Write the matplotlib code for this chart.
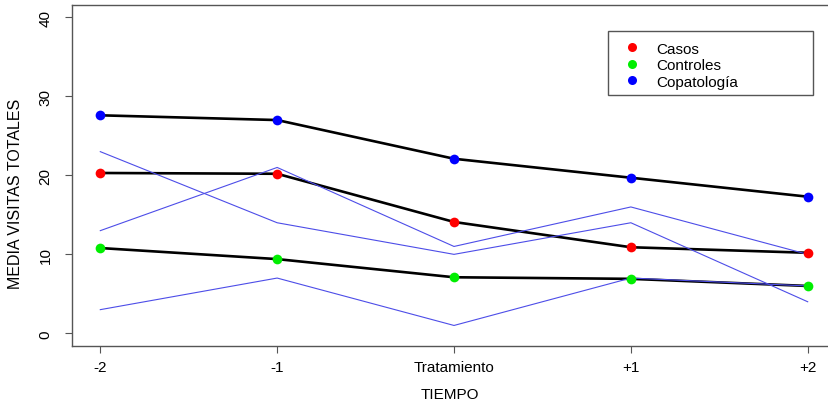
import numpy as np
import matplotlib
matplotlib.use('Agg')
import matplotlib.pyplot as plt
from matplotlib.lines import Line2D
from matplotlib.patches import Rectangle

plt.rcParams['font.family'] = ['Liberation Sans', 'DejaVu Sans']

# data
tiempo = ['-2', '-1', 'Tratamiento', '+1', '+2']
casos = [20.3, 20.2, 14.1, 10.9, 10.2]
controles = [10.8, 9.4, 7.1, 6.9, 6.0]
copatologia = [27.6, 27.0, 22.1, 19.7, 17.3]
# individual trajectories (thin blue lines)
indiv_1 = [23, 14, 10, 14, 4]
indiv_2 = [13, 21, 11, 16, 10]
indiv_3 = [3, 7, 1, 7, 6]

W, H = 829, 406
fig = plt.figure(figsize=(W / 100, H / 100), dpi=100)
ax = fig.add_axes([72 / W, (H - 347) / H, (836 - 72) / W, (347 - 5.7) / H])

x = np.arange(1, len(tiempo) + 1)

for serie in (copatologia, casos, controles):
    ax.plot(x, serie, color='black', lw=1.9, zorder=2)

for ind in (indiv_1, indiv_2, indiv_3):
    ax.plot(x, ind, color='#4d4de8', lw=0.8, zorder=3)

colores = {'Casos': '#ff0000', 'Controles': '#00ee00', 'Copatología': '#0000ff'}
for serie, nombre in ((casos, 'Casos'), (controles, 'Controles'), (copatologia, 'Copatología')):
    ax.plot(x, serie, 'o', color=colores[nombre], ms=7, mec='none', zorder=4)

ax.set_xlim(0.84, 5.16)
ax.set_ylim(-1.6, 41.6)
ax.set_xticks(x)
ax.set_xticklabels(tiempo)
ax.set_yticks([0, 10, 20, 30, 40])
ax.set_yticklabels(['0', '10', '20', '30', '40'], rotation=90, va='center')

fs = 11
for s in ax.spines.values():
    s.set_color('#555555')
    s.set_linewidth(1)
ax.tick_params(axis='both', direction='out', length=5, width=0.8, color='#555555',
               labelsize=fs, labelcolor='black')
ax.tick_params(axis='x', pad=5)
ax.tick_params(axis='y', pad=9)

ax.set_xlabel('TIEMPO', fontsize=fs, va='center')
ax.xaxis.set_label_coords(0.494, -0.1406)
ax.set_ylabel('MEDIA VISITAS TOTALES', fontsize=11.5, va='center')
ax.yaxis.set_label_coords(-0.0746, 0.45)

# legend
handles = [Line2D([], [], ls='none', marker='o', ms=6.5, mec='none', color=c) for c in colores.values()]
leg = fig.legend(handles, list(colores.keys()), loc='upper left',
                 bbox_to_anchor=(624.8 / W, 1 - 42.5 / H), frameon=False,
                 fontsize=fs, handlelength=1.0, handletextpad=1.05,
                 labelspacing=0.17, borderpad=0, borderaxespad=0)
fig.patches.append(Rectangle((608 / W, 1 - 96.3 / H), (813 - 608) / W, (96.3 - 31.7) / H,
                             transform=fig.transFigure, fill=False,
                             edgecolor='#555555', lw=1))

fig.savefig('out.png', dpi=100)
